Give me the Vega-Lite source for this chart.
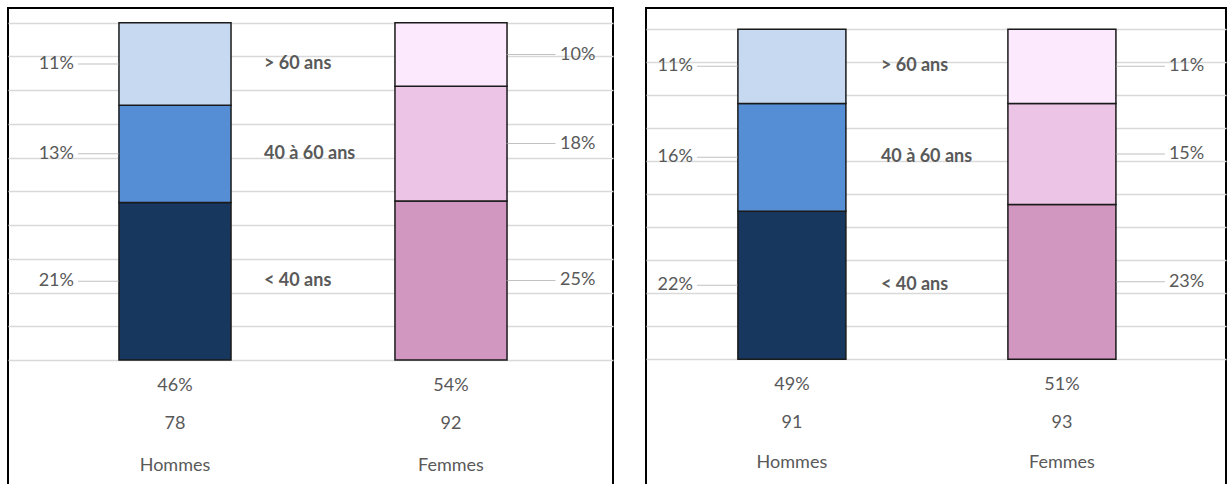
{
  "$schema": "https://vega.github.io/schema/vega-lite/v6.json",
  "background": "white",
  "padding": {"left": 7, "top": 7, "right": 0, "bottom": 0},
  "spacing": 31,
  "datasets": {
    "segments": [
      {"graphique": 1, "sexe": "Hommes", "age": "< 40 ans", "ordre": 1, "pct": 0.21},
      {"graphique": 1, "sexe": "Hommes", "age": "40 à 60 ans", "ordre": 2, "pct": 0.13},
      {"graphique": 1, "sexe": "Hommes", "age": "> 60 ans", "ordre": 3, "pct": 0.11},
      {"graphique": 1, "sexe": "Femmes", "age": "< 40 ans", "ordre": 1, "pct": 0.25},
      {"graphique": 1, "sexe": "Femmes", "age": "40 à 60 ans", "ordre": 2, "pct": 0.18},
      {"graphique": 1, "sexe": "Femmes", "age": "> 60 ans", "ordre": 3, "pct": 0.10},
      {"graphique": 2, "sexe": "Hommes", "age": "< 40 ans", "ordre": 1, "pct": 0.22},
      {"graphique": 2, "sexe": "Hommes", "age": "40 à 60 ans", "ordre": 2, "pct": 0.16},
      {"graphique": 2, "sexe": "Hommes", "age": "> 60 ans", "ordre": 3, "pct": 0.11},
      {"graphique": 2, "sexe": "Femmes", "age": "< 40 ans", "ordre": 1, "pct": 0.23},
      {"graphique": 2, "sexe": "Femmes", "age": "40 à 60 ans", "ordre": 2, "pct": 0.15},
      {"graphique": 2, "sexe": "Femmes", "age": "> 60 ans", "ordre": 3, "pct": 0.11}
    ],
    "totaux": [
      {"graphique": 1, "sexe": "Hommes", "part": 0.46, "effectif": 78},
      {"graphique": 1, "sexe": "Femmes", "part": 0.54, "effectif": 92},
      {"graphique": 2, "sexe": "Hommes", "part": 0.49, "effectif": 91},
      {"graphique": 2, "sexe": "Femmes", "part": 0.51, "effectif": 93}
    ]
  },
  "config": {
    "view": {"stroke": "#000000", "strokeWidth": 2},
    "axis": {"labels": false, "ticks": false, "domain": false, "grid": true, "gridColor": "#d9d9d9", "gridWidth": 1.5, "minExtent": 0, "maxExtent": 0, "titlePadding": 0}
  },
  "hconcat": [
    {
      "width": 605,
      "height": 480,
      "data": {"name": "segments"},
      "transform": [{"filter": "datum.graphique == 1"}],
      "encoding": {
        "x": {"field": "sexe", "type": "nominal", "scale": {"domain": ["Hommes", "Femmes"], "paddingInner": 0.594, "paddingOuter": 0.393, "align": 0.5115}, "axis": null}
      },
      "layer": [
        {
          "transform": [{"filter": "datum.sexe == 'Hommes'"}],
          "mark": {"type": "bar", "stroke": "#1a1a1a", "strokeWidth": 1.5},
          "encoding": {
            "y": {"field": "pct", "type": "quantitative", "stack": "normalize", "scale": {"domain": [-0.3795, 1.0436], "nice": false, "zero": false}, "axis": {"values": [0, 0.1, 0.2, 0.3, 0.4, 0.5, 0.6, 0.7, 0.8, 0.9, 1]}, "title": null},
            "color": {"field": "age", "type": "nominal", "scale": {"domain": ["< 40 ans", "40 à 60 ans", "> 60 ans"], "range": ["#17375e", "#558ed5", "#c6d9f0"]}, "legend": null},
            "order": {"field": "ordre", "type": "quantitative"}
          }
        },
        {
          "transform": [{"filter": "datum.sexe == 'Femmes'"}],
          "mark": {"type": "bar", "stroke": "#1a1a1a", "strokeWidth": 1.5},
          "encoding": {
            "y": {"field": "pct", "type": "quantitative", "stack": "normalize", "scale": {"domain": [-0.3795, 1.0436], "nice": false, "zero": false}, "axis": {"values": [0, 0.1, 0.2, 0.3, 0.4, 0.5, 0.6, 0.7, 0.8, 0.9, 1]}, "title": null},
            "color": {"field": "age", "type": "nominal", "scale": {"domain": ["< 40 ans", "40 à 60 ans", "> 60 ans"], "range": ["#d297c0", "#ecc5e6", "#fde9fd"]}, "legend": null},
            "order": {"field": "ordre", "type": "quantitative"}
          }
        },
        {
          "transform": [{"filter": "datum.sexe == 'Hommes'"}],
          "mark": {"type": "tick", "orient": "horizontal", "color": "#a6a6a6", "thickness": 1, "size": 41, "xOffset": -76.5},
          "encoding": {
            "y": {"field": "pct", "type": "quantitative", "stack": "normalize", "bandPosition": 0.5, "scale": {"domain": [-0.3795, 1.0436], "nice": false, "zero": false}, "axis": {"values": [0, 0.1, 0.2, 0.3, 0.4, 0.5, 0.6, 0.7, 0.8, 0.9, 1]}, "title": null},
            "detail": {"field": "age"},
            "order": {"field": "ordre", "type": "quantitative"}
          }
        },
        {
          "transform": [{"filter": "datum.sexe == 'Femmes'"}],
          "mark": {"type": "tick", "orient": "horizontal", "color": "#a6a6a6", "thickness": 1, "size": 49, "xOffset": 80},
          "encoding": {
            "y": {"field": "pct", "type": "quantitative", "stack": "normalize", "bandPosition": 0.5, "scale": {"domain": [-0.3795, 1.0436], "nice": false, "zero": false}, "axis": {"values": [0, 0.1, 0.2, 0.3, 0.4, 0.5, 0.6, 0.7, 0.8, 0.9, 1]}, "title": null},
            "detail": {"field": "age"},
            "order": {"field": "ordre", "type": "quantitative"}
          }
        },
        {
          "transform": [{"filter": "datum.sexe == 'Hommes'"}],
          "mark": {"type": "text", "align": "right", "baseline": "middle", "dx": -45, "font": "Lato", "fontSize": 18, "color": "#595959"},
          "encoding": {
            "x": {"field": "sexe", "type": "nominal", "bandPosition": 0},
            "y": {"field": "pct", "type": "quantitative", "stack": "normalize", "bandPosition": 0.5, "scale": {"domain": [-0.3795, 1.0436], "nice": false, "zero": false}, "axis": {"values": [0, 0.1, 0.2, 0.3, 0.4, 0.5, 0.6, 0.7, 0.8, 0.9, 1]}, "title": null},
            "detail": {"field": "age"},
            "order": {"field": "ordre", "type": "quantitative"},
            "text": {"field": "pct", "type": "quantitative", "format": ".0%"}
          }
        },
        {
          "transform": [{"filter": "datum.sexe == 'Femmes'"}],
          "mark": {"type": "text", "align": "left", "baseline": "middle", "dx": 53, "font": "Lato", "fontSize": 18, "color": "#595959"},
          "encoding": {
            "x": {"field": "sexe", "type": "nominal", "bandPosition": 1},
            "y": {"field": "pct", "type": "quantitative", "stack": "normalize", "bandPosition": 0.5, "scale": {"domain": [-0.3795, 1.0436], "nice": false, "zero": false}, "axis": {"values": [0, 0.1, 0.2, 0.3, 0.4, 0.5, 0.6, 0.7, 0.8, 0.9, 1]}, "title": null},
            "detail": {"field": "age"},
            "order": {"field": "ordre", "type": "quantitative"},
            "text": {"field": "pct", "type": "quantitative", "format": ".0%"}
          }
        },
        {
          "transform": [{"filter": "datum.sexe == 'Hommes'"}],
          "mark": {"type": "text", "align": "left", "baseline": "middle", "dx": 33, "font": "Lato", "fontSize": 18, "fontWeight": "bold", "color": "#595959"},
          "encoding": {
            "x": {"field": "sexe", "type": "nominal", "bandPosition": 1},
            "y": {"field": "pct", "type": "quantitative", "stack": "normalize", "bandPosition": 0.5, "scale": {"domain": [-0.3795, 1.0436], "nice": false, "zero": false}, "axis": {"values": [0, 0.1, 0.2, 0.3, 0.4, 0.5, 0.6, 0.7, 0.8, 0.9, 1]}, "title": null},
            "detail": {"field": "age"},
            "order": {"field": "ordre", "type": "quantitative"},
            "text": {"field": "age"}
          }
        },
        {
          "data": {"name": "totaux"},
          "transform": [{"filter": "datum.graphique == 1"}],
          "layer": [
            {
              "mark": {"type": "text", "baseline": "middle", "dy": 26, "font": "Lato", "fontSize": 18, "color": "#595959"},
              "encoding": {"y": {"datum": 0, "type": "quantitative"}, "text": {"field": "part", "type": "quantitative", "format": ".0%"}}
            },
            {
              "mark": {"type": "text", "baseline": "middle", "dy": 64, "font": "Lato", "fontSize": 18, "color": "#595959"},
              "encoding": {"y": {"datum": 0, "type": "quantitative"}, "text": {"field": "effectif", "type": "quantitative"}}
            },
            {
              "mark": {"type": "text", "baseline": "middle", "dy": 106, "font": "Lato", "fontSize": 18, "color": "#595959"},
              "encoding": {"y": {"datum": 0, "type": "quantitative"}, "text": {"field": "sexe"}}
            }
          ]
        }
      ],
      "resolve": {"scale": {"color": "independent"}}
    },
    {
      "width": 580,
      "height": 480,
      "data": {"name": "segments"},
      "transform": [{"filter": "datum.graphique == 2"}],
      "encoding": {
        "x": {"field": "sexe", "type": "nominal", "scale": {"domain": ["Hommes", "Femmes"], "paddingInner": 0.6, "paddingOuter": 0.374, "align": 0.455}, "axis": null}
      },
      "layer": [
        {
          "transform": [{"filter": "datum.sexe == 'Hommes'"}],
          "mark": {"type": "bar", "stroke": "#1a1a1a", "strokeWidth": 1.5},
          "encoding": {
            "y": {"field": "pct", "type": "quantitative", "stack": "normalize", "scale": {"domain": [-0.39, 1.06455], "nice": false, "zero": false}, "axis": {"values": [0, 0.1, 0.2, 0.3, 0.4, 0.5, 0.6, 0.7, 0.8, 0.9, 1]}, "title": null},
            "color": {"field": "age", "type": "nominal", "scale": {"domain": ["< 40 ans", "40 à 60 ans", "> 60 ans"], "range": ["#17375e", "#558ed5", "#c6d9f0"]}, "legend": null},
            "order": {"field": "ordre", "type": "quantitative"}
          }
        },
        {
          "transform": [{"filter": "datum.sexe == 'Femmes'"}],
          "mark": {"type": "bar", "stroke": "#1a1a1a", "strokeWidth": 1.5},
          "encoding": {
            "y": {"field": "pct", "type": "quantitative", "stack": "normalize", "scale": {"domain": [-0.39, 1.06455], "nice": false, "zero": false}, "axis": {"values": [0, 0.1, 0.2, 0.3, 0.4, 0.5, 0.6, 0.7, 0.8, 0.9, 1]}, "title": null},
            "color": {"field": "age", "type": "nominal", "scale": {"domain": ["< 40 ans", "40 à 60 ans", "> 60 ans"], "range": ["#d297c0", "#ecc5e6", "#fde9fd"]}, "legend": null},
            "order": {"field": "ordre", "type": "quantitative"}
          }
        },
        {
          "transform": [{"filter": "datum.sexe == 'Hommes'"}],
          "mark": {"type": "tick", "orient": "horizontal", "color": "#a6a6a6", "thickness": 1, "size": 41, "xOffset": -74.5},
          "encoding": {
            "y": {"field": "pct", "type": "quantitative", "stack": "normalize", "bandPosition": 0.5, "scale": {"domain": [-0.39, 1.06455], "nice": false, "zero": false}, "axis": {"values": [0, 0.1, 0.2, 0.3, 0.4, 0.5, 0.6, 0.7, 0.8, 0.9, 1]}, "title": null},
            "detail": {"field": "age"},
            "order": {"field": "ordre", "type": "quantitative"}
          }
        },
        {
          "transform": [{"filter": "datum.sexe == 'Femmes'"}],
          "mark": {"type": "tick", "orient": "horizontal", "color": "#a6a6a6", "thickness": 1, "size": 49, "xOffset": 78.5},
          "encoding": {
            "y": {"field": "pct", "type": "quantitative", "stack": "normalize", "bandPosition": 0.5, "scale": {"domain": [-0.39, 1.06455], "nice": false, "zero": false}, "axis": {"values": [0, 0.1, 0.2, 0.3, 0.4, 0.5, 0.6, 0.7, 0.8, 0.9, 1]}, "title": null},
            "detail": {"field": "age"},
            "order": {"field": "ordre", "type": "quantitative"}
          }
        },
        {
          "transform": [{"filter": "datum.sexe == 'Hommes'"}],
          "mark": {"type": "text", "align": "right", "baseline": "middle", "dx": -45, "font": "Lato", "fontSize": 18, "color": "#595959"},
          "encoding": {
            "x": {"field": "sexe", "type": "nominal", "bandPosition": 0},
            "y": {"field": "pct", "type": "quantitative", "stack": "normalize", "bandPosition": 0.5, "scale": {"domain": [-0.39, 1.06455], "nice": false, "zero": false}, "axis": {"values": [0, 0.1, 0.2, 0.3, 0.4, 0.5, 0.6, 0.7, 0.8, 0.9, 1]}, "title": null},
            "detail": {"field": "age"},
            "order": {"field": "ordre", "type": "quantitative"},
            "text": {"field": "pct", "type": "quantitative", "format": ".0%"}
          }
        },
        {
          "transform": [{"filter": "datum.sexe == 'Femmes'"}],
          "mark": {"type": "text", "align": "left", "baseline": "middle", "dx": 53, "font": "Lato", "fontSize": 18, "color": "#595959"},
          "encoding": {
            "x": {"field": "sexe", "type": "nominal", "bandPosition": 1},
            "y": {"field": "pct", "type": "quantitative", "stack": "normalize", "bandPosition": 0.5, "scale": {"domain": [-0.39, 1.06455], "nice": false, "zero": false}, "axis": {"values": [0, 0.1, 0.2, 0.3, 0.4, 0.5, 0.6, 0.7, 0.8, 0.9, 1]}, "title": null},
            "detail": {"field": "age"},
            "order": {"field": "ordre", "type": "quantitative"},
            "text": {"field": "pct", "type": "quantitative", "format": ".0%"}
          }
        },
        {
          "transform": [{"filter": "datum.sexe == 'Hommes'"}],
          "mark": {"type": "text", "align": "left", "baseline": "middle", "dx": 35, "font": "Lato", "fontSize": 18, "fontWeight": "bold", "color": "#595959"},
          "encoding": {
            "x": {"field": "sexe", "type": "nominal", "bandPosition": 1},
            "y": {"field": "pct", "type": "quantitative", "stack": "normalize", "bandPosition": 0.5, "scale": {"domain": [-0.39, 1.06455], "nice": false, "zero": false}, "axis": {"values": [0, 0.1, 0.2, 0.3, 0.4, 0.5, 0.6, 0.7, 0.8, 0.9, 1]}, "title": null},
            "detail": {"field": "age"},
            "order": {"field": "ordre", "type": "quantitative"},
            "text": {"field": "age"}
          }
        },
        {
          "data": {"name": "totaux"},
          "transform": [{"filter": "datum.graphique == 2"}],
          "layer": [
            {
              "mark": {"type": "text", "baseline": "middle", "dy": 26, "font": "Lato", "fontSize": 18, "color": "#595959"},
              "encoding": {"y": {"datum": 0, "type": "quantitative"}, "text": {"field": "part", "type": "quantitative", "format": ".0%"}}
            },
            {
              "mark": {"type": "text", "baseline": "middle", "dy": 64, "font": "Lato", "fontSize": 18, "color": "#595959"},
              "encoding": {"y": {"datum": 0, "type": "quantitative"}, "text": {"field": "effectif", "type": "quantitative"}}
            },
            {
              "mark": {"type": "text", "baseline": "middle", "dy": 104, "font": "Lato", "fontSize": 18, "color": "#595959"},
              "encoding": {"y": {"datum": 0, "type": "quantitative"}, "text": {"field": "sexe"}}
            }
          ]
        }
      ],
      "resolve": {"scale": {"color": "independent"}}
    }
  ]
}
